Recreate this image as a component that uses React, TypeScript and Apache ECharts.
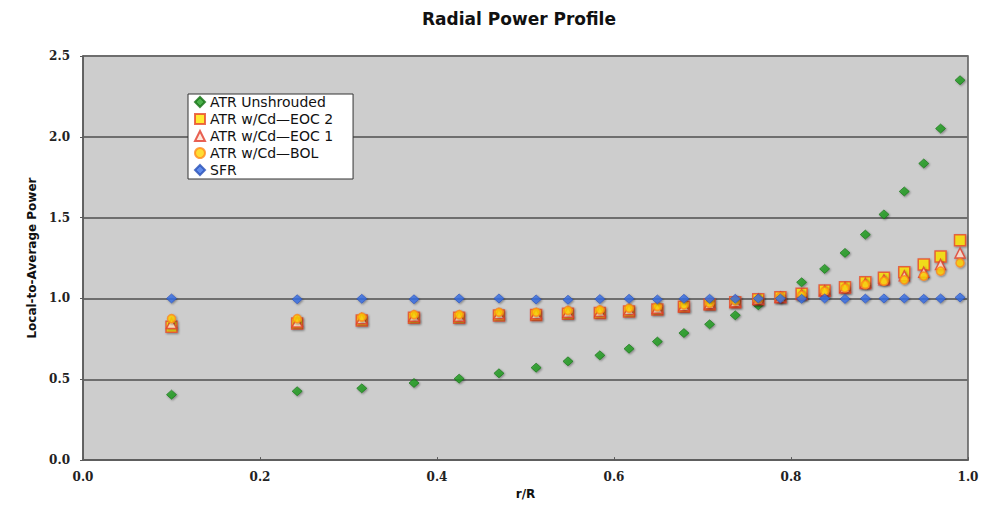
import React, { useEffect, useRef } from "react";
import * as echarts from "echarts";

const rR = [0.100, 0.242, 0.315, 0.374, 0.425, 0.470, 0.512, 0.548, 0.584, 0.617, 0.649, 0.679, 0.708, 0.737, 0.763, 0.788, 0.812, 0.838, 0.861, 0.884, 0.905, 0.928, 0.950, 0.969, 0.991];

const atrUnshrouded = [0.405, 0.426, 0.444, 0.477, 0.504, 0.537, 0.572, 0.611, 0.648, 0.689, 0.733, 0.786, 0.840, 0.896, 0.958, 1.000, 1.100, 1.183, 1.282, 1.395, 1.520, 1.662, 1.835, 2.051, 2.350];
const atrEoc2 = [0.825, 0.845, 0.864, 0.880, 0.880, 0.895, 0.897, 0.905, 0.910, 0.920, 0.932, 0.949, 0.963, 0.977, 0.995, 1.008, 1.029, 1.049, 1.070, 1.100, 1.128, 1.162, 1.210, 1.259, 1.360];
const atrEoc1 = [0.845, 0.855, 0.875, 0.890, 0.890, 0.905, 0.905, 0.915, 0.920, 0.930, 0.940, 0.955, 0.967, 0.980, 0.995, 1.008, 1.025, 1.047, 1.067, 1.093, 1.115, 1.140, 1.162, 1.210, 1.282];
const atrBol = [0.875, 0.875, 0.885, 0.900, 0.900, 0.915, 0.915, 0.926, 0.930, 0.940, 0.950, 0.960, 0.970, 0.985, 0.995, 1.010, 1.020, 1.045, 1.065, 1.086, 1.107, 1.115, 1.138, 1.169, 1.220];
const sfr = [1.000, 0.995, 0.998, 0.995, 1.000, 1.000, 0.994, 0.992, 0.996, 0.998, 0.994, 0.998, 0.998, 0.998, 1.000, 1.000, 0.998, 1.000, 0.997, 0.999, 1.000, 1.000, 0.998, 1.000, 1.006];

const seriesNames = ["ATR Unshrouded", "ATR w/Cd\u2014EOC 2", "ATR w/Cd\u2014EOC 1", "ATR w/Cd\u2014BOL", "SFR"];

const pairs = (ys: number[]) => rR.map((x, i) => [x, ys[i]]);

export default function App() {
  const ref = useRef<HTMLDivElement>(null);
  useEffect(() => {
    document.body.style.margin = "0";
    if (!ref.current) return;
    const chart = echarts.init(ref.current, undefined, { renderer: "svg" });
    const shadow = { shadowColor: "rgba(0,0,0,0.45)", shadowBlur: 2, shadowOffsetX: 1, shadowOffsetY: 1 };
    const tickFont = { fontFamily: "DejaVu Serif", fontWeight: "bold" as const, fontSize: 12, color: "#222" };
    chart.setOption({
      animation: false,
      backgroundColor: "#ffffff",
      title: {
        text: "Radial Power Profile",
        left: 514,
        top: 5,
        textAlign: "center",
        textStyle: { fontFamily: "DejaVu Sans", fontWeight: "bold", fontSize: 17, color: "#111" },
      },
      legend: {
        orient: "vertical",
        left: 188,
        top: 94,
        padding: [1, 20, 2, 6],
        itemGap: 3,
        itemWidth: 10,
        itemHeight: 10,
        itemTextGap: 7,
        backgroundColor: "#ffffff",
        borderColor: "#333333",
        borderWidth: 1,
        borderRadius: 0,
        data: seriesNames,
        textStyle: { fontFamily: "DejaVu Sans", fontSize: 14, color: "#111", lineHeight: 14 },
      },
      grid: {
        left: 83,
        right: 29,
        top: 56,
        bottom: 44,
        show: true,
        backgroundColor: "#cdcdcd",
        borderColor: "#5a5a5a",
        borderWidth: 1.5,
      },
      xAxis: {
        type: "value",
        min: 0,
        max: 1,
        interval: 0.2,
        name: "r/R",
        nameLocation: "middle",
        nameGap: 26,
        nameTextStyle: { fontFamily: "DejaVu Sans", fontWeight: "bold", fontSize: 12, color: "#111" },
        axisLine: { show: true, lineStyle: { color: "#5a5a5a", width: 1.5 } },
        axisTick: { show: true, inside: true, length: 3, lineStyle: { color: "#5a5a5a" } },
        splitLine: { show: false },
        axisLabel: { ...tickFont, margin: 11, formatter: (v: number) => v.toFixed(1) },
      },
      yAxis: {
        type: "value",
        min: 0,
        max: 2.5,
        interval: 0.5,
        name: "Local-to-Average Power",
        nameLocation: "middle",
        nameGap: 44,
        nameRotate: 90,
        nameTextStyle: { fontFamily: "DejaVu Sans", fontWeight: "bold", fontSize: 12, color: "#111" },
        axisLine: { show: true, lineStyle: { color: "#5a5a5a", width: 1.5 } },
        axisTick: { show: true, inside: false, length: 3, lineStyle: { color: "#5a5a5a" } },
        splitLine: { show: true, lineStyle: { color: "#6e6e6e", width: 2 } },
        axisLabel: { ...tickFont, margin: 13, formatter: (v: number) => v.toFixed(1) },
      },
      series: [
        {
          name: seriesNames[0],
          type: "scatter",
          symbol: "diamond",
          symbolSize: [10, 9],
          itemStyle: { color: "#1f9e1f", borderColor: "#137013", borderWidth: 0.8, ...shadow },
          data: pairs(atrUnshrouded),
          z: 2,
        },
        {
          name: seriesNames[1],
          type: "scatter",
          symbol: "rect",
          symbolSize: 11,
          itemStyle: { color: "#ffe600", borderColor: "#e8482a", borderWidth: 1.5, ...shadow },
          data: pairs(atrEoc2),
          z: 3,
        },
        {
          name: seriesNames[2],
          type: "scatter",
          symbol: "triangle",
          symbolSize: 10,
          itemStyle: { color: "#ffe4d4", borderColor: "#e23b2b", borderWidth: 1.5, ...shadow },
          data: pairs(atrEoc1),
          z: 4,
        },
        {
          name: seriesNames[3],
          type: "scatter",
          symbol: "circle",
          symbolSize: 8,
          itemStyle: { color: "#ffd400", borderColor: "#ff8a1a", borderWidth: 1.5, ...shadow },
          data: pairs(atrBol),
          z: 5,
        },
        {
          name: seriesNames[4],
          type: "scatter",
          symbol: "diamond",
          symbolSize: [10, 9],
          itemStyle: { color: "#3a6fe6", borderColor: "#2850b8", borderWidth: 0.8, ...shadow },
          data: pairs(sfr),
          z: 6,
        },
      ],
    });
    return () => chart.dispose();
  }, []);
  return <div ref={ref} style={{ width: 997, height: 505 }} />;
}
